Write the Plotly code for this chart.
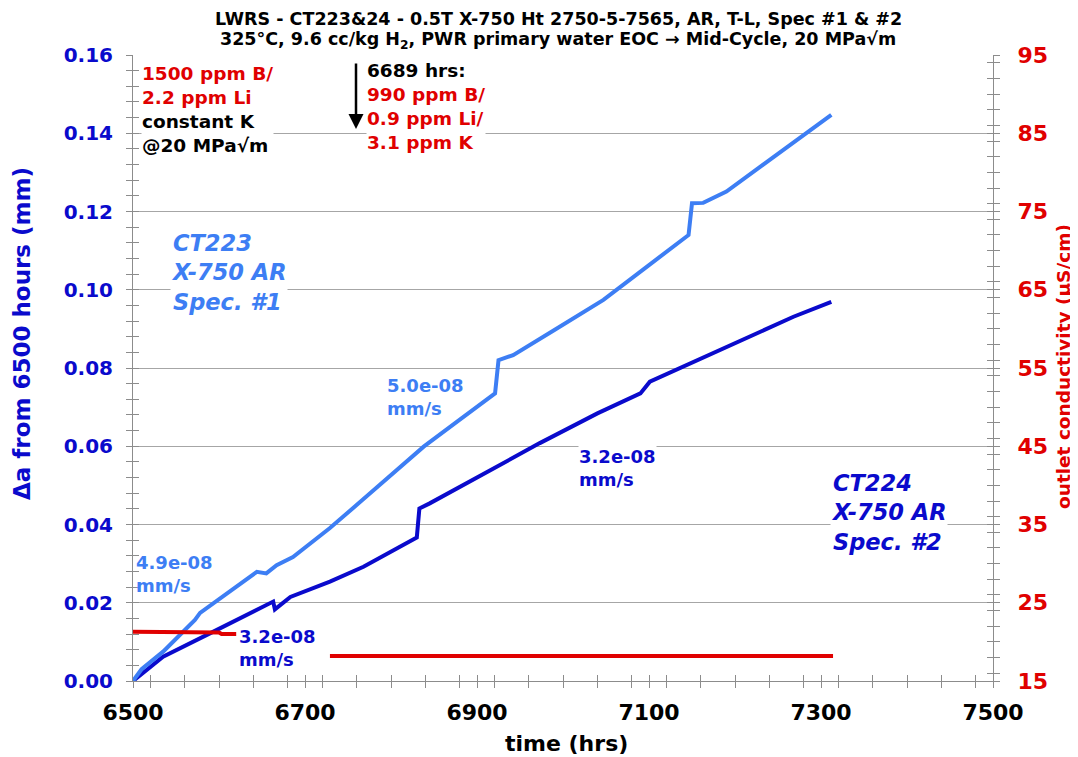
import plotly.graph_objects as go

# ---------------- data ----------------
t_ct223 = [6500, 6510, 6535, 6572, 6578, 6610, 6644, 6655, 6667, 6686, 6729, 6767,
           6800, 6838, 6880, 6921, 6925, 6942, 6990, 7047, 7100, 7146, 7150, 7163,
           7190, 7237, 7280, 7312]
da_ct223 = [0.000, 0.003, 0.0075, 0.0156, 0.0174, 0.0225, 0.0279, 0.0275, 0.0296, 0.0317,
            0.0391, 0.0463, 0.0526, 0.0599, 0.0668, 0.0735, 0.0820, 0.0833, 0.0897, 0.0974,
            0.1063, 0.1140, 0.1221, 0.1222, 0.1251, 0.1327, 0.1395, 0.1447]

t_ct224 = [6500, 6535, 6597, 6652, 6663, 6665, 6683, 6729, 6768, 6830, 6833, 6845,
           6900, 6973, 7040, 7090, 7101, 7144, 7200, 7268, 7312]
da_ct224 = [0.000, 0.0062, 0.0130, 0.0190, 0.0203, 0.0183, 0.0215, 0.0254, 0.0292, 0.0367,
            0.0441, 0.0454, 0.0520, 0.0608, 0.0684, 0.0735, 0.0765, 0.0808, 0.0864, 0.0931,
            0.0969]

t_cond1 = [6500, 6560, 6600, 6603, 6620]
cond1 = [21.3, 21.3, 21.2, 21.0, 21.0]
t_cond2 = [6729, 6900, 7100, 7314]
cond2 = [18.2, 18.2, 18.2, 18.2]

x_ticks = [6500, 6700, 6900, 7100, 7300, 7500]
y_ticks = [0.00, 0.02, 0.04, 0.06, 0.08, 0.10, 0.12, 0.14, 0.16]
y2_ticks = [15, 25, 35, 45, 55, 65, 75, 85, 95]

title_lines = ["LWRS - CT223&24 - 0.5T X-750 Ht 2750-5-7565, AR, T-L, Spec #1 & #2",
               "325°C, 9.6 cc/kg H<sub>2</sub>, PWR primary water EOC → Mid-Cycle, 20 MPa√m"]

# ---------------- styling ----------------
LIGHT = "#3D7EF4"
DARK = "#0A0ACC"
RED = "#E00000"
FONT = "DejaVu Sans"
OFF = 8                      # default page (body) margin of the html page
W, H = 1078 - OFF, 757 - OFF
PL, PR, PT, PB = 133, 993, 55, 681   # plot area in page pixels
L, R, T, B = PL - OFF, OFF + W - PR, PT - OFF, OFF + H - PB
X0, X1 = 6500, 7500
Y0, Y1 = 0.0, 0.16


def xpx(px):
    return X0 + (px - PL) / (PR - PL) * (X1 - X0)


def ypx(py):
    return Y0 + (PB - py) / (PB - PT) * (Y1 - Y0)


def xpap(px):
    return (px - PL) / (PR - PL)


def ypap(py):
    return (PB - py) / (PB - PT)


fig = go.Figure()
fig.add_trace(go.Scatter(x=t_cond1, y=cond1, mode="lines", yaxis="y2",
                         line=dict(color=RED, width=4), showlegend=False))
fig.add_trace(go.Scatter(x=t_cond2, y=cond2, mode="lines", yaxis="y2",
                         line=dict(color=RED, width=4), showlegend=False))
fig.add_trace(go.Scatter(x=t_ct224, y=da_ct224, mode="lines",
                         line=dict(color=DARK, width=4), showlegend=False))
fig.add_trace(go.Scatter(x=t_ct223, y=da_ct223, mode="lines",
                         line=dict(color=LIGHT, width=4), showlegend=False))
# empty traces so the overlay tick axes are drawn
fig.add_trace(go.Scatter(x=[None], y=[None], xaxis="x2", yaxis="y3", showlegend=False, hoverinfo="skip"))
fig.add_trace(go.Scatter(x=[None], y=[None], xaxis="x2", yaxis="y4", showlegend=False, hoverinfo="skip"))

axis_line = "#8c8c8c"
fig.update_layout(
    width=W, height=H,
    margin=dict(l=L, r=R, t=T, b=B),
    paper_bgcolor="white", plot_bgcolor="white",
    font=dict(family=FONT, color="black"),
    xaxis=dict(range=[X0, X1], tickvals=x_ticks, ticktext=[str(v) for v in x_ticks],
               ticks="outside", ticklen=6, tickcolor=axis_line, ticklabelstandoff=6,
               minor=dict(dtick=40, ticks="outside", ticklen=6, tickcolor=axis_line),
               showline=True, linecolor=axis_line, linewidth=1, showgrid=False, zeroline=False,
               tickfont=dict(family=FONT, size=22, color="black", weight="bold")),
    yaxis=dict(range=[Y0, Y1], tickvals=y_ticks, ticktext=[f"{v:.2f}" for v in y_ticks],
               ticks="outside", ticklen=6, tickcolor=axis_line, ticklabelstandoff=9,
               minor=dict(dtick=0.004, ticks="outside", ticklen=6, tickcolor=axis_line),
               showline=True, linecolor=axis_line, linewidth=1,
               showgrid=True, gridcolor="#a6a6a6", gridwidth=1, zeroline=False,
               tickfont=dict(family=FONT, size=20, color=DARK, weight="bold")),
    yaxis2=dict(range=[15, 95], tickvals=y2_ticks, overlaying="y", side="right",
                ticks="outside", ticklen=6, tickcolor=axis_line, ticklabelstandoff=13,
                minor=dict(dtick=2, ticks="outside", ticklen=6, tickcolor=axis_line),
                showline=True, linecolor=axis_line, linewidth=1, showgrid=False, zeroline=False,
                tickfont=dict(family=FONT, size=22, color=RED, weight="bold")),
    xaxis2=dict(range=[X0, X1], overlaying="x", anchor="y3", tickvals=x_ticks,
                ticks="inside", ticklen=6, tickcolor=axis_line, showticklabels=False,
                minor=dict(dtick=40, ticks="inside", ticklen=6, tickcolor=axis_line),
                showgrid=False, zeroline=False, showline=False),
    yaxis3=dict(range=[Y0, Y1], overlaying="y", side="left", anchor="x2", tickvals=y_ticks,
                ticks="inside", ticklen=6, tickcolor=axis_line, showticklabels=False,
                minor=dict(dtick=0.004, ticks="inside", ticklen=6, tickcolor=axis_line),
                showgrid=False, zeroline=False, showline=False),
    yaxis4=dict(range=[15, 95], overlaying="y", side="right", anchor="x2", tickvals=y2_ticks,
                ticks="inside", ticklen=6, tickcolor=axis_line, showticklabels=False,
                minor=dict(dtick=2, ticks="inside", ticklen=6, tickcolor=axis_line),
                showgrid=False, zeroline=False, showline=False),
)

ann = []

# title (two centred lines)
for text, cy in zip(title_lines, [19, 40]):
    ann.append(dict(x=xpap(558), y=ypap(cy), xref="paper", yref="paper", text=text,
                    showarrow=False, xanchor="center", yanchor="middle",
                    font=dict(family=FONT, size=17.5, color="black", weight="bold")))


def label(px, py, text, color, size, italic=False, bg="white"):
    t = f"<i>{text}</i>" if italic else text
    ann.append(dict(x=xpx(px), y=ypx(py), xref="x", yref="y", text=t, showarrow=False,
                    xanchor="left", yanchor="top", align="left", bgcolor=bg, borderpad=0,
                    font=dict(family=FONT, size=size, color=color, weight="bold")))


label(141, 62,
      f"<span style='color:{RED}'>1500 ppm B/<br>2.2 ppm Li</span><br>constant K<br>@20 MPa√m",
      "black", 18.5)
label(366, 59,
      f"6689 hrs:<br><span style='color:{RED}'>990 ppm B/<br>0.9 ppm Li/<br>3.1 ppm K</span>",
      "black", 18.5)
label(170, 229, "CT223<br>X-750 AR<br>Spec. #1", LIGHT, 22.5, italic=True)
label(830, 469, "CT224<br>X-750 AR<br>Spec. #2", DARK, 22.5, italic=True)
label(135, 551, "4.9e-08<br>mm/s", LIGHT, 18, bg="rgba(0,0,0,0)")
label(238, 625, "3.2e-08<br>mm/s", DARK, 18)
label(386, 374, "5.0e-08<br>mm/s", LIGHT, 18, bg="rgba(0,0,0,0)")
label(578, 445, "3.2e-08<br>mm/s", DARK, 18)

# arrow at the chemistry change
ann.append(dict(x=xpx(356), y=ypx(129), xref="x", yref="y", ax=0, ay=-67,
                showarrow=True, arrowhead=2, arrowsize=1.2, arrowwidth=2.5,
                arrowcolor="black", text=""))

# axis titles
ann.append(dict(x=xpap(22), y=ypap(334), xref="paper", yref="paper",
                text="Δa from 6500 hours (mm)", textangle=-90, showarrow=False,
                xanchor="center", yanchor="middle",
                font=dict(family=FONT, size=23, color=DARK, weight="bold")))
ann.append(dict(x=xpap(1063), y=ypap(367), xref="paper", yref="paper",
                text="outlet conductivity (µS/cm)", textangle=-90, showarrow=False,
                xanchor="center", yanchor="middle",
                font=dict(family=FONT, size=18.5, color=RED, weight="bold")))
ann.append(dict(x=xpap(566), y=ypap(743), xref="paper", yref="paper",
                text="time (hrs)", showarrow=False, xanchor="center", yanchor="middle",
                font=dict(family=FONT, size=22, color="black", weight="bold")))

fig.update_layout(annotations=ann)
fig.write_html("out.html")
